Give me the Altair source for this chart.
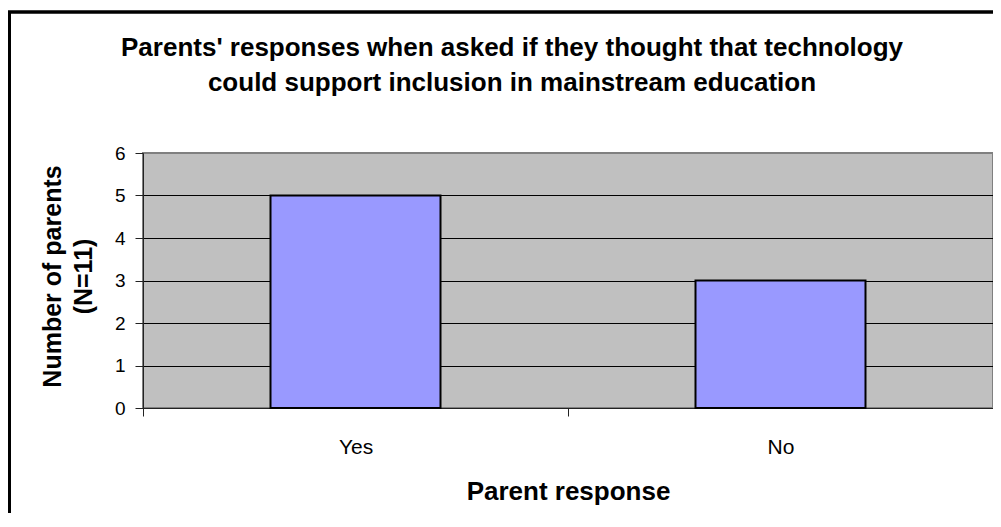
import altair as alt
import pandas as pd

categories = ["Yes", "No"]
counts = [5, 3]
y_ticks = [0, 1, 2, 3, 4, 5, 6]

title_lines = ["Parents' responses when asked if they thought that technology",
               "could support inclusion in mainstream education"]
y_title = ["Number of parents", "(N=11)"]
x_title = "Parent response"

df = pd.DataFrame({"response": categories, "count": counts})

FONT = "Liberation Sans"
W, H = 850, 255

bars = alt.Chart(df).mark_bar(
    color="#9999FF", stroke="black", strokeWidth=2,
    width=alt.RelativeBandSize(0.4)
).encode(
    x=alt.X("response:N", sort=categories,
            scale=alt.Scale(paddingInner=0, paddingOuter=0),
            axis=alt.Axis(title=x_title, labelAngle=0, tickBand="extent",
                          labelFont=FONT, labelFontSize=21, labelColor="black",
                          labelBaseline="alphabetic", labelPadding=37,
                          tickSize=8, tickColor="#222", domainColor="#222",
                          titleFont=FONT, titleFontSize=26, titleFontWeight="bold",
                          titleColor="black", titleBaseline="alphabetic",
                          titleY=91, grid=False)),
    y=alt.Y("count:Q", scale=alt.Scale(domain=[0, 6], nice=False),
            axis=alt.Axis(title=y_title, values=y_ticks, format="d",
                          labelFont=FONT, labelFontSize=19, labelColor="black",
                          labelPadding=10, tickSize=8, tickColor="#222",
                          domainColor="#222",
                          grid=True,
                          gridColor=alt.condition("datum.value == 6",
                                                  alt.value("#808080"),
                                                  alt.value("black")),
                          gridWidth=1,
                          titleFont=FONT, titleFontSize=25, titleFontWeight="bold",
                          titleColor="black", titleAngle=270,
                          titleAlign="center", titleBaseline="middle",
                          titleLineHeight=31, titleX=-91, titleY=123)),
)

frame_top = alt.Chart(df).mark_rule(color="black", strokeWidth=3).encode(
    x=alt.value(-135), x2=alt.value(W), y=alt.value(-141)
)
frame_left = alt.Chart(df).mark_rule(color="black", strokeWidth=3).encode(
    x=alt.value(-133.5), y=alt.value(-141), y2=alt.value(H + 105)
)

chart = alt.layer(bars, frame_top, frame_left).properties(
    width=W, height=H,
    background="white",
    title=alt.TitleParams(title_lines, font=FONT, fontSize=26, fontWeight="bold",
                          color="black", anchor="middle", frame="group",
                          dx=-56, offset=-111, baseline="bottom", lineHeight=35),
    autosize=alt.AutoSizeParams(type="none"),
    padding={"left": 135, "top": 145, "right": 0, "bottom": 105},
).configure_view(
    fill="#C0C0C0", stroke="#808080", strokeWidth=2
)

chart.save("out.html", embed_options={"renderer": "svg", "actions": False})
